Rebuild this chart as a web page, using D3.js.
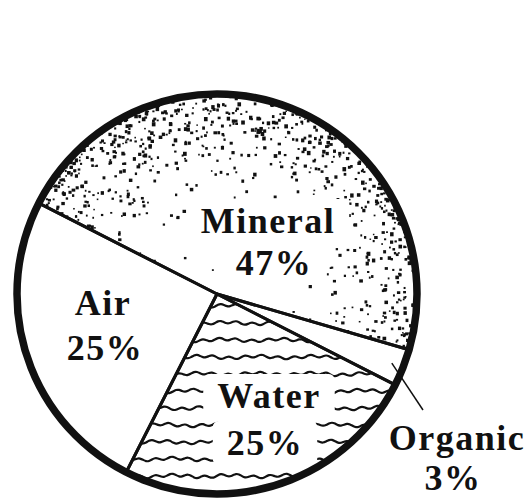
<!DOCTYPE html>
<html>
<head>
<meta charset="utf-8">
<script src="https://cdn.jsdelivr.net/npm/d3@7"></script>
<style>
  body { margin: 0; background: #fff; }
  svg { display: block; }
  .lbl { font-family: "Liberation Serif", "Times New Roman", serif; font-weight: bold; font-size: 36px; letter-spacing: 1.5px; fill: #111; text-anchor: middle; }
</style>
</head>
<body>
<svg id="chart"></svg>
<script>
// soil composition
const parts = ['Mineral', 'Organic', 'Water', 'Air'];
const shares = [47, 3, 25, 25];
const pctLabels = ['47%', '3%', '25%', '25%'];

const width = 529, height = 500;
const cx = 217, cy = 294, R = 200;

// where each label sits (name baseline, pct baseline), page coords
const labelPos = {
    Mineral: {x: 268, y1: 233, x2: 274, y2: 275},
    Organic: {x: 457, y1: 450, x2: 453, y2: 490},
    Water:   {x: 269, y1: 408, x2: 265, y2: 455},
    Air:     {x: 103, y1: 315, x2: 105, y2: 360}
};

const svg = d3.select('#chart').attr('width', width).attr('height', height);
const defs = svg.append('defs');
const g = svg.append('g').attr('transform', `translate(${cx},${cy})`);

let data = parts.map((p, i) => ({name: p, value: shares[i], label: pctLabels[i]}));

const start = 297 * Math.PI / 180;
const pie = d3.pie().sort(null).value(d => d.value)
    .startAngle(start).endAngle(start + 2 * Math.PI);
const arcs = pie(data);
const arc = d3.arc().innerRadius(0).outerRadius(R);

arcs.forEach(d => {
    defs.append('clipPath').attr('id', 'clip-' + d.data.name)
        .append('path').attr('d', arc(d));
});

// mask that keeps texture away from the labels
let mask = defs.append('mask').attr('id', 'txtmask')
    .attr('maskUnits', 'userSpaceOnUse')
    .attr('x', -cx).attr('y', -cy).attr('width', width).attr('height', height);
mask.append('rect').attr('x', -cx).attr('y', -cy).attr('width', width).attr('height', height).attr('fill', '#fff');

// labels first (measured), then added to mask
const labelG = svg.append('g');
data.forEach(d => {
    let p = labelPos[d.name];
    labelG.append('text').attr('class', 'lbl').attr('x', p.x).attr('y', p.y1).text(d.name);
    labelG.append('text').attr('class', 'lbl').attr('x', p.x2).attr('y', p.y2).text(d.label);
});
labelG.selectAll('text').each(function() {
    let b = this.getBBox();
    mask.append('rect')
        .attr('x', b.x - cx - 14).attr('y', b.y - cy - 2)
        .attr('width', b.width + 28).attr('height', b.height + 4)
        .attr('rx', 6).attr('fill', '#000');
});

// stipple for mineral, denser toward the rim
const rnd = d3.randomLcg(11);
let dots = [];
for (let i = 0; i < 9000; i++) {
    let a = rnd() * 2 * Math.PI, r = Math.sqrt(rnd()) * R;
    let t = r / R;
    if (rnd() < Math.pow(t, 4) * 0.5 + 0.015)
        dots.push({x: r * Math.sin(a), y: -r * Math.cos(a), s: 1.5 + rnd() * 2.2});
}
g.append('g').attr('clip-path', 'url(#clip-Mineral)').attr('mask', 'url(#txtmask)')
    .selectAll('rect').data(dots).enter().append('rect')
    .attr('x', d => d.x).attr('y', d => d.y)
    .attr('width', d => d.s).attr('height', d => d.s * (0.8 + rnd() * 0.4))
    .attr('fill', '#111');

// wavy lines for water
const waveLine = d3.line().curve(d3.curveBasis);
let waves = [];
for (let y = 306 - cy; y < R; y += 17) {
    let pts = [];
    let ph = rnd() * 6;
    for (let x = -R; x <= R; x += 3) {
        pts.push([x, y + 1.6 * Math.sin(x / 2.6 + ph) + 1.0 * Math.sin(x / 9 + ph)]);
    }
    waves.push(pts);
}
g.append('g').attr('clip-path', 'url(#clip-Water)').attr('mask', 'url(#txtmask)')
    .selectAll('path').data(waves).enter().append('path')
    .attr('d', waveLine)
    .attr('fill', 'none').attr('stroke', '#111').attr('stroke-width', 2.2);

// slice edges
g.selectAll('.slice').data(arcs).enter().append('path')
    .attr('class', 'slice')
    .attr('d', arc)
    .attr('fill', 'none').attr('stroke', '#111')
    .attr('stroke-width', 3).attr('stroke-linejoin', 'round');

g.append('circle').attr('r', R).attr('fill', 'none')
    .attr('stroke', '#111').attr('stroke-width', 7.5);

// leader line for organic
let org = arcs.find(d => d.data.name == 'Organic');
let mid = (org.startAngle + org.endAngle) / 2;
let lp = labelPos.Organic;
g.append('line')
    .attr('x1', (R - 12) * Math.sin(mid)).attr('y1', -(R - 12) * Math.cos(mid))
    .attr('x2', lp.x - 34 - cx).attr('y2', lp.y1 - 40 - cy)
    .attr('stroke', '#111').attr('stroke-width', 1.5);

labelG.raise();
</script>
</body>
</html>
